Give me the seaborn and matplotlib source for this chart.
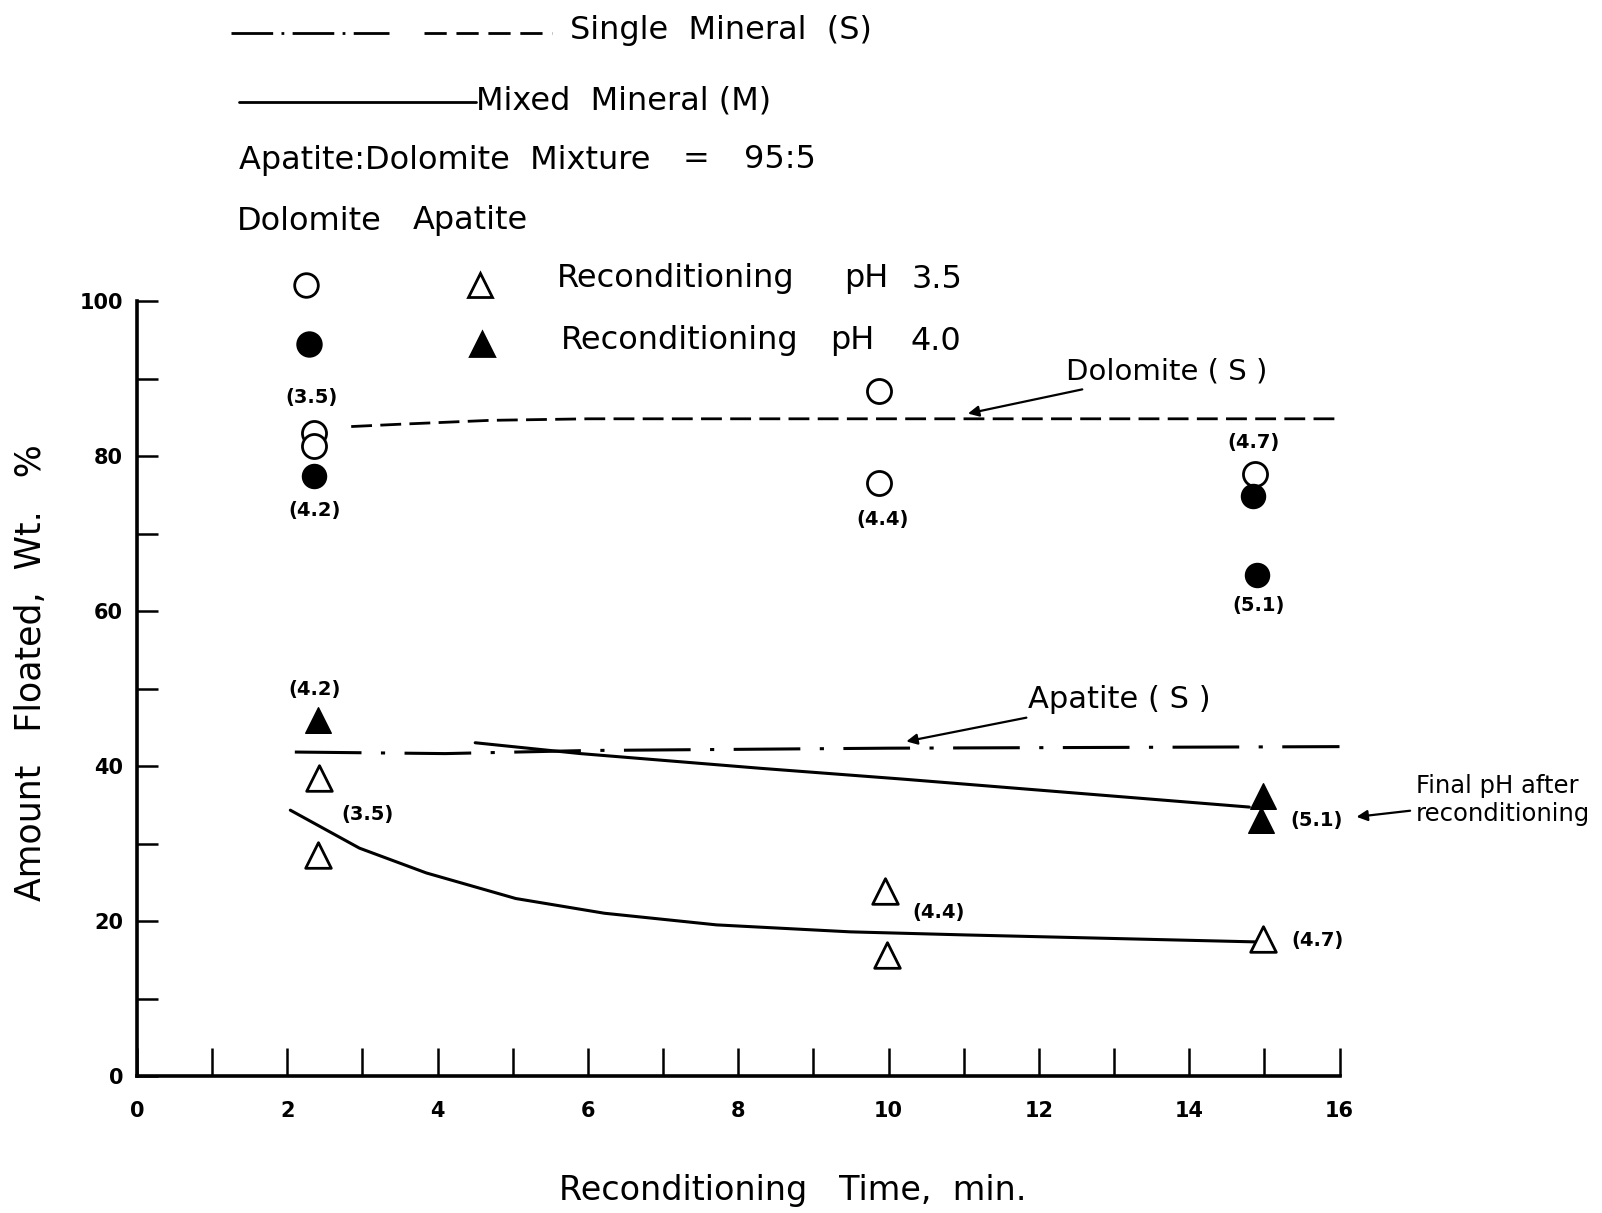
import matplotlib
matplotlib.use('Agg')
import matplotlib.pyplot as plt
import seaborn as sns
from matplotlib.lines import Line2D

# ---- data ----
# dolomite, reconditioning pH 3.5 (open circles) / pH 4.0 (filled circles)
dol_open_x = [2.35, 2.35, 9.87, 9.87, 14.87]
dol_open_y = [83.0, 81.3, 88.4, 76.5, 77.7]
dol_fill_x = [2.35, 14.85, 14.90]
dol_fill_y = [77.4, 74.8, 64.6]

# apatite, reconditioning pH 3.5 (open triangles) / pH 4.0 (filled triangles)
apa_open_x = [2.42, 2.41, 9.95, 9.98, 14.98]
apa_open_y = [38.4, 28.5, 23.9, 15.6, 17.7]
apa_fill_x = [2.41, 14.98, 14.96]
apa_fill_y = [46.0, 36.1, 33.0]

# single mineral curves
dol_single_x = [2.85, 3.5, 4.7, 6.0, 10.0, 16.0]
dol_single_y = [83.8, 84.1, 84.6, 84.8, 84.8, 84.8]
apa_single_x = [2.1, 4.1, 6.0, 10.0, 16.0]
apa_single_y = [41.8, 41.6, 42.0, 42.3, 42.5]

# mixed mineral curves
mix_upper_x = [4.5, 4.9, 5.9, 8.3, 10.2, 14.8]
mix_upper_y = [43.0, 42.6, 41.6, 39.7, 38.3, 34.7]
mix_lower_x = [2.04, 2.96, 3.85, 5.04, 6.22, 7.71, 9.49, 11.03, 14.9]
mix_lower_y = [34.3, 29.4, 26.2, 22.9, 21.0, 19.5, 18.6, 18.2, 17.3]

# final pH labels: (text, x, y)
ph_labels = [
    ('(3.5)', 2.32, 87.5), ('(4.2)', 2.36, 73.0),
    ('(4.4)', 9.92, 71.8), ('(4.7)', 14.86, 81.8), ('(5.1)', 14.92, 60.7),
    ('(4.2)', 2.36, 49.9), ('(3.5)', 3.07, 33.8), ('(4.4)', 10.66, 21.1),
    ('(4.7)', 15.71, 17.5), ('(5.1)', 15.69, 33.0),
]

xticks = list(range(0, 17))
xticklabels = [str(t) if t % 2 == 0 else '' for t in xticks]
yticks = list(range(0, 101, 10))
yticklabels = [str(t) if t % 20 == 0 else '' for t in yticks]

# ---- style ----
sns.set_theme(style='white')
plt.rcParams.update({
    'lines.scale_dashes': False,
    'text.color': 'black',
    'axes.labelcolor': 'black',
    'xtick.color': 'black',
    'ytick.color': 'black',
})
plt.rcParams['font.family'] = ['DejaVu Sans']

W, H = 1602, 1213
fig = plt.figure(figsize=(W / 100, H / 100), dpi=100)
ax = fig.add_axes([137 / W, 1 - 1076 / H, 1202.5 / W, 775 / H])


def fx(px):
    return px / W


def fy(py):
    return 1 - py / H


# single mineral lines
sns.lineplot(x=dol_single_x, y=dol_single_y, ax=ax, color='black', lw=2,
             sort=False, estimator=None)
ax.lines[-1].set_dashes((15, 6))
sns.lineplot(x=apa_single_x, y=apa_single_y, ax=ax, color='black', lw=2.2,
             sort=False, estimator=None)
ax.lines[-1].set_dashes((48, 14, 3, 14))

# mixed mineral lines
sns.lineplot(x=mix_upper_x, y=mix_upper_y, ax=ax, color='black', lw=2.2,
             sort=False, estimator=None)
sns.lineplot(x=mix_lower_x, y=mix_lower_y, ax=ax, color='black', lw=2.2,
             sort=False, estimator=None)

# points
sns.scatterplot(x=dol_open_x, y=dol_open_y, ax=ax, marker='o', s=300,
                color='white', edgecolor='black', linewidth=2, zorder=4)
sns.scatterplot(x=dol_fill_x, y=dol_fill_y, ax=ax, marker='o', s=300,
                color='black', edgecolor='black', linewidth=1, zorder=4)
sns.scatterplot(x=apa_open_x, y=apa_open_y, ax=ax, marker='^', s=340,
                color='white', edgecolor='black', linewidth=2, zorder=4)
sns.scatterplot(x=apa_fill_x, y=apa_fill_y, ax=ax, marker='^', s=340,
                color='black', edgecolor='black', linewidth=1, zorder=4)

for txt, x, y in ph_labels:
    ax.text(x, y, txt, ha='center', va='center', fontsize=14, fontweight='bold')

# curve labels with arrows
arrow = dict(arrowstyle='-|>', color='black', lw=1.6, mutation_scale=16)
ax.annotate('Dolomite ( S )', xy=(11.02, 85.4), xytext=(12.36, 90.9),
            fontsize=21, ha='left', va='center', arrowprops=arrow)
ax.annotate('Apatite ( S )', xy=(10.2, 43.1), xytext=(11.85, 48.6),
            fontsize=22, ha='left', va='center', arrowprops=arrow)
ax.annotate('Final pH after\nreconditioning', xy=(16.19, 33.4), xytext=(17.02, 35.6),
            fontsize=17.5, ha='left', va='center', linespacing=1.2,
            annotation_clip=False, arrowprops=arrow)

# axes
ax.set_xlim(0, 16)
ax.set_ylim(0, 100)
ax.set_xticks(xticks)
ax.set_xticklabels(xticklabels)
ax.set_yticks(yticks)
ax.set_yticklabels(yticklabels)
ax.tick_params(axis='x', direction='in', length=20, width=1.8, pad=18,
               labelsize=15, bottom=True)
ax.tick_params(axis='y', direction='in', length=15, width=1.8, pad=10,
               labelsize=15, left=True)
for lab in ax.get_xticklabels() + ax.get_yticklabels():
    lab.set_fontweight('bold')
for side in ['top', 'right']:
    ax.spines[side].set_visible(False)
for side in ['left', 'bottom']:
    ax.spines[side].set_color('black')
    ax.spines[side].set_linewidth(2.6)
ax.set_facecolor('white')

ax.set_xlabel('Reconditioning   Time,  min.', fontsize=24)
ax.xaxis.label.set_va('center')
ax.xaxis.set_label_coords(0.545, -0.148)
ax.set_ylabel('Amount   Floated,  Wt.   %', fontsize=25)
ax.yaxis.label.set_va('center')
ax.yaxis.set_label_coords(-0.088, 0.52)

# ---- legend block drawn above the plot ----
def fig_line(x0, x1, y, dashes=None, lw=2):
    ln = Line2D([fx(x0), fx(x1)], [fy(y), fy(y)], transform=fig.transFigure,
                color='black', lw=lw)
    if dashes:
        ln.set_dashes(dashes)
    fig.add_artist(ln)


def fig_marker(x, y, marker, fill):
    fig.add_artist(Line2D([fx(x)], [fy(y)], transform=fig.transFigure,
                          marker=marker, markersize=17, linestyle='none',
                          markerfacecolor=fill, markeredgecolor='black',
                          markeredgewidth=2))


LEG = 23
fig_line(231, 389, 33, dashes=(30, 6, 2, 6))
fig_line(424, 552, 33, dashes=(16, 7))
fig.text(fx(570), fy(31), 'Single  Mineral  (S)', fontsize=LEG, va='center')
fig_line(239, 476, 102)
fig.text(fx(476), fy(101), 'Mixed  Mineral (M)', fontsize=LEG, va='center')
fig.text(fx(239), fy(160), 'Apatite:Dolomite  Mixture', fontsize=LEG, va='center')
fig.text(fx(683), fy(160), '=', fontsize=LEG, va='center')
fig.text(fx(744), fy(160), '95:5', fontsize=LEG, va='center')
fig.text(fx(237), fy(221), 'Dolomite', fontsize=LEG, va='center')
fig.text(fx(413), fy(221), 'Apatite', fontsize=LEG, va='center')

fig_marker(306, 285, 'o', 'white')
fig_marker(480, 285, '^', 'white')
fig.text(fx(557), fy(279), 'Reconditioning', fontsize=LEG, va='center')
fig.text(fx(844), fy(279), 'pH', fontsize=LEG, va='center')
fig.text(fx(912), fy(279), '3.5', fontsize=LEG, va='center')
fig_marker(309, 344, 'o', 'black')
fig_marker(482, 344, '^', 'black')
fig.text(fx(561), fy(341), 'Reconditioning', fontsize=LEG, va='center')
fig.text(fx(830), fy(341), 'pH', fontsize=LEG, va='center')
fig.text(fx(911), fy(341), '4.0', fontsize=LEG, va='center')

fig.savefig('out.png', dpi=100, facecolor='white')
